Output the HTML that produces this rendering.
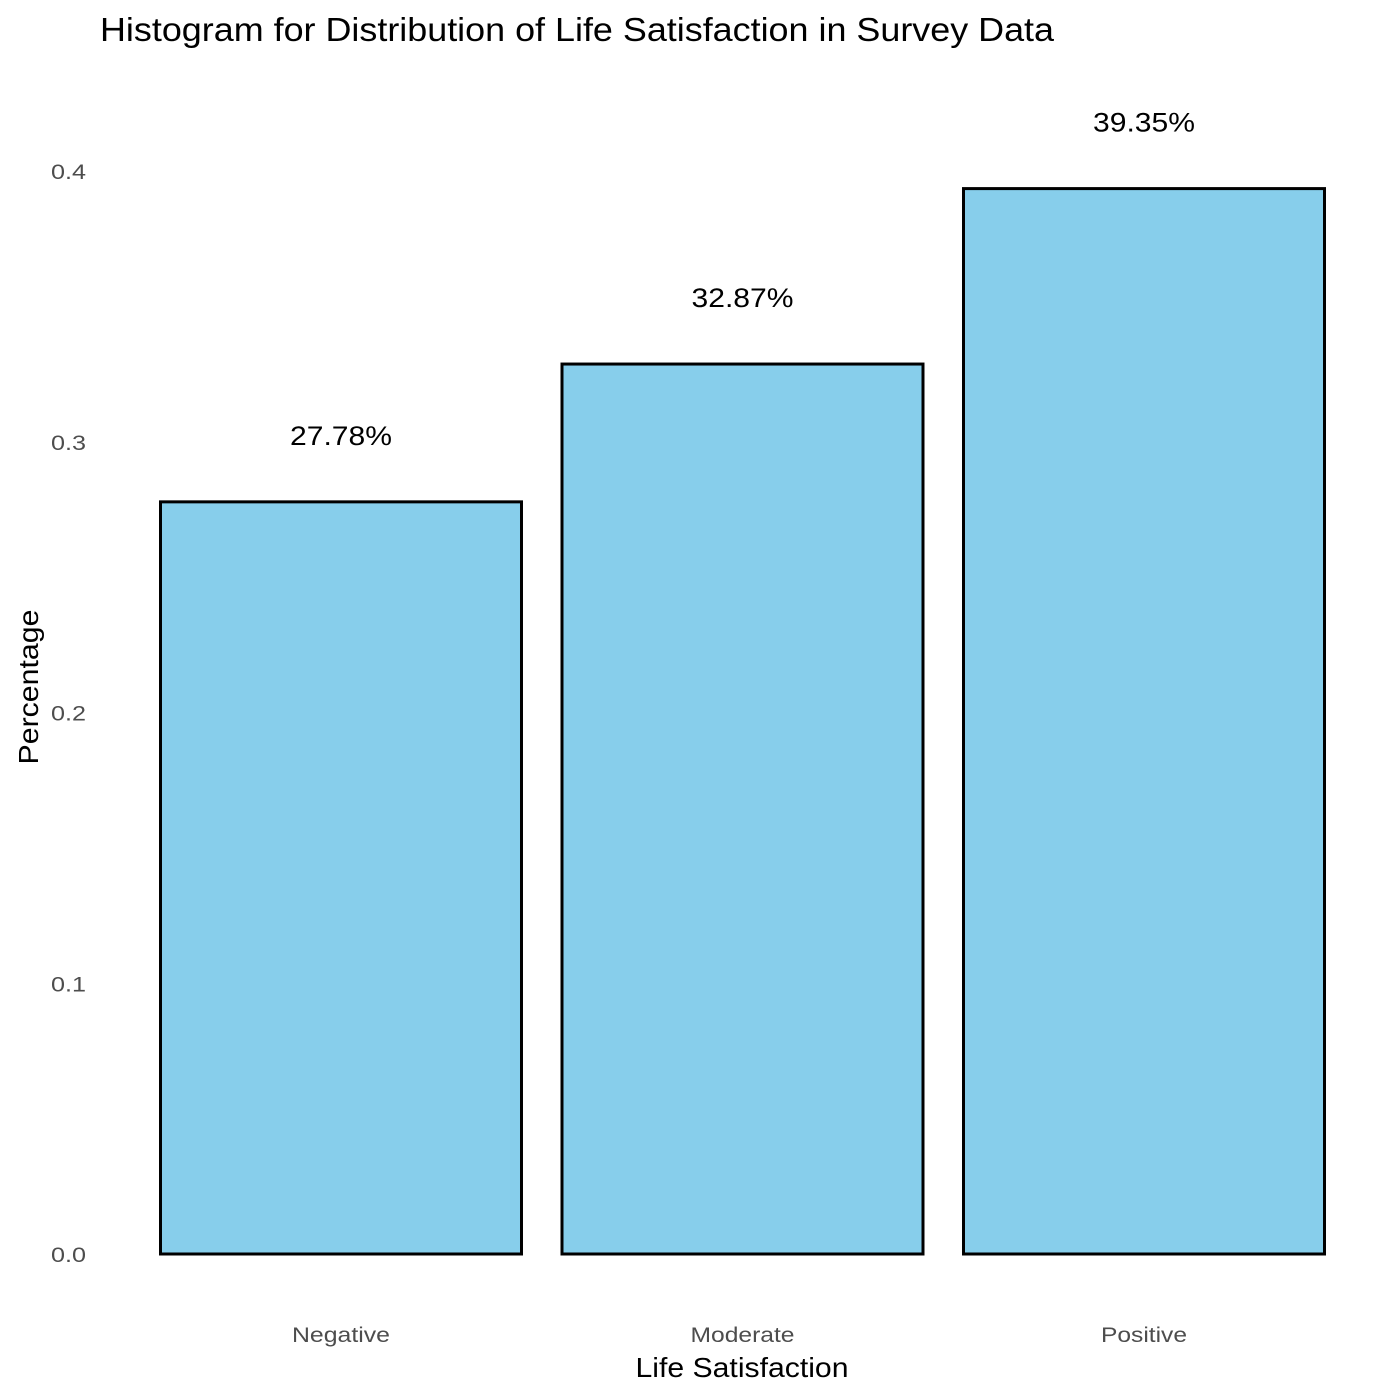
<!DOCTYPE html>
<html><head><meta charset="utf-8">
<style>
html,body{margin:0;padding:0;background:#fff;}
svg{display:block;font-family:"Liberation Sans",sans-serif;}
</style></head>
<body>
<svg id="chart" width="1400" height="1400" viewBox="0 0 1400 1400">
<text x="100" y="41" font-size="33" fill="#000" textLength="954" lengthAdjust="spacingAndGlyphs">Histogram for Distribution of Life Satisfaction in Survey Data</text>
<text transform="translate(38,687) rotate(-90)" text-anchor="middle" font-size="28" fill="#000" textLength="155" lengthAdjust="spacingAndGlyphs">Percentage</text>
<text x="742" y="1377" text-anchor="middle" font-size="28" fill="#000" textLength="213" lengthAdjust="spacingAndGlyphs">Life Satisfaction</text>
<g id="ticks"></g>
<g id="bars"></g>
</svg>
<script>
const categories = ["Negative", "Moderate", "Positive"];
const values = [0.2778, 0.3287, 0.3935];
const valueLabels = ["27.78%", "32.87%", "39.35%"];
const yTicks = [0.0, 0.1, 0.2, 0.3, 0.4];
const yTickLabels = ["0.0", "0.1", "0.2", "0.3", "0.4"];

const NS = "http://www.w3.org/2000/svg";
function y(v){ return 1254 - v * 2707.5; }
function x(i){ return 341 + i * 401.5; }
const bw = 361;
const catWidths = {Negative: 98, Moderate: 104, Positive: 86};

const tg = document.getElementById("ticks");
yTicks.forEach((t, i) => {
  const el = document.createElementNS(NS, "text");
  el.setAttribute("x", 86);
  el.setAttribute("y", y(t) + 8);
  el.setAttribute("text-anchor", "end");
  el.setAttribute("font-size", "21");
  el.setAttribute("fill", "#4d4d4d");
  el.setAttribute("textLength", "35");
  el.setAttribute("lengthAdjust", "spacingAndGlyphs");
  el.textContent = yTickLabels[i];
  
  
  tg.appendChild(el);
});
categories.forEach((c, i) => {
  const el = document.createElementNS(NS, "text");
  el.setAttribute("x", x(i));
  el.setAttribute("y", 1342);
  el.setAttribute("text-anchor", "middle");
  el.setAttribute("font-size", "21");
  el.setAttribute("fill", "#4d4d4d");
  if (catWidths[c]) {
    el.setAttribute("textLength", catWidths[c]);
    el.setAttribute("lengthAdjust", "spacingAndGlyphs");
  }
  el.textContent = c;
  
  
  tg.appendChild(el);
});

const bg = document.getElementById("bars");
values.forEach((v, i) => {
  const r = document.createElementNS(NS, "rect");
  r.setAttribute("x", x(i) - bw / 2);
  r.setAttribute("y", y(v));
  r.setAttribute("width", bw);
  r.setAttribute("height", y(0) - y(v));
  r.setAttribute("fill", "#87ceeb");
  r.setAttribute("stroke", "#000");
  r.setAttribute("stroke-width", "3");
  
  
  bg.appendChild(r);
  const t = document.createElementNS(NS, "text");
  t.setAttribute("x", x(i));
  t.setAttribute("y", y(v) - 57);
  t.setAttribute("text-anchor", "middle");
  t.setAttribute("font-size", "27");
  t.setAttribute("fill", "#000");
  t.setAttribute("textLength", "102");
  t.setAttribute("lengthAdjust", "spacingAndGlyphs");
  t.textContent = valueLabels[i];
  
  
  bg.appendChild(t);
});
</script>
</body></html>
